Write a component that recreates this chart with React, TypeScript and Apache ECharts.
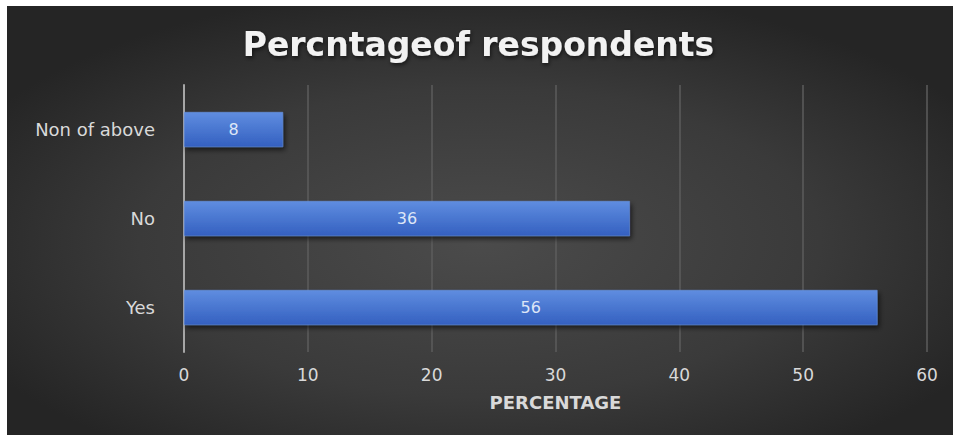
import React, { useEffect, useRef } from "react";
import * as echarts from "echarts";

const titleText = "Percntageof respondents";
const categories = ["Yes", "No", "Non of above"];
const values = [56, 36, 8];
const xTicks = { min: 0, max: 60, interval: 10 };
const axisName = "PERCENTAGE";

const FONT = "DejaVu Sans";

export default function App() {
  const ref = useRef<HTMLDivElement>(null);
  useEffect(() => {
    if (!ref.current) return;
    const chart = echarts.init(ref.current, undefined, { renderer: "svg" });
    chart.setOption({
      animation: false,
      backgroundColor: "#ffffff",
      graphic: [
        {
          type: "rect",
          z: -10,
          silent: true,
          shape: { x: 7, y: 6, width: 946, height: 429 },
          style: {
            fill: {
              type: "radial",
              x: 0.5,
              y: 0.55,
              r: 0.6,
              colorStops: [
                { offset: 0, color: "#4b4b4b" },
                { offset: 0.6, color: "#3a3a3a" },
                { offset: 1, color: "#252525" },
              ],
            },
          },
        },
      ],
      title: {
        text: titleText,
        left: "center",
        top: 23,
        textStyle: {
          color: "#f2f2f2",
          fontFamily: FONT,
          fontWeight: "bold",
          fontSize: 33,
          textShadowColor: "rgba(0,0,0,0.6)",
          textShadowBlur: 4,
          textShadowOffsetX: 1,
          textShadowOffsetY: 2,
        },
      },
      grid: { left: 184, right: 30, top: 85, bottom: 83, containLabel: false },
      xAxis: {
        type: "value",
        min: xTicks.min,
        max: xTicks.max,
        interval: xTicks.interval,
        name: axisName,
        nameLocation: "middle",
        nameGap: 41,
        nameTextStyle: {
          color: "#d9d9d9",
          fontFamily: FONT,
          fontWeight: "bold",
          fontSize: 18,
        },
        axisLine: { show: false },
        axisTick: { show: false },
        axisLabel: {
          color: "#d9d9d9",
          fontFamily: FONT,
          fontSize: 17,
          margin: 14,
        },
        splitLine: { lineStyle: { color: "#5c5c5c", width: 1.5 } },
      },
      yAxis: {
        type: "category",
        data: categories,
        axisLine: { show: true, lineStyle: { color: "#a6a6a6", width: 2 } },
        axisTick: { show: false },
        axisLabel: {
          color: "#d9d9d9",
          fontFamily: FONT,
          fontSize: 18,
          margin: 29,
        },
        splitLine: { show: false },
      },
      series: [
        {
          type: "bar",
          data: values,
          barWidth: 35,
          itemStyle: {
            color: {
              type: "linear",
              x: 0,
              y: 0,
              x2: 0,
              y2: 1,
              colorStops: [
                { offset: 0, color: "#5f8de0" },
                { offset: 1, color: "#3460c0" },
              ],
            },
            borderColor: "#6a96e6",
            borderWidth: 0.5,
            shadowColor: "rgba(0,0,0,0.6)",
            shadowBlur: 5,
            shadowOffsetX: 2,
            shadowOffsetY: 3,
          },
          label: {
            show: true,
            position: "inside",
            color: "#dde6f7",
            fontFamily: FONT,
            fontSize: 16,
          },
        },
      ],
    });
    return () => chart.dispose();
  }, []);
  return (
    <div
      ref={ref}
      style={{ position: "fixed", left: 0, top: 0, width: 957, height: 435 }}
    />
  );
}
